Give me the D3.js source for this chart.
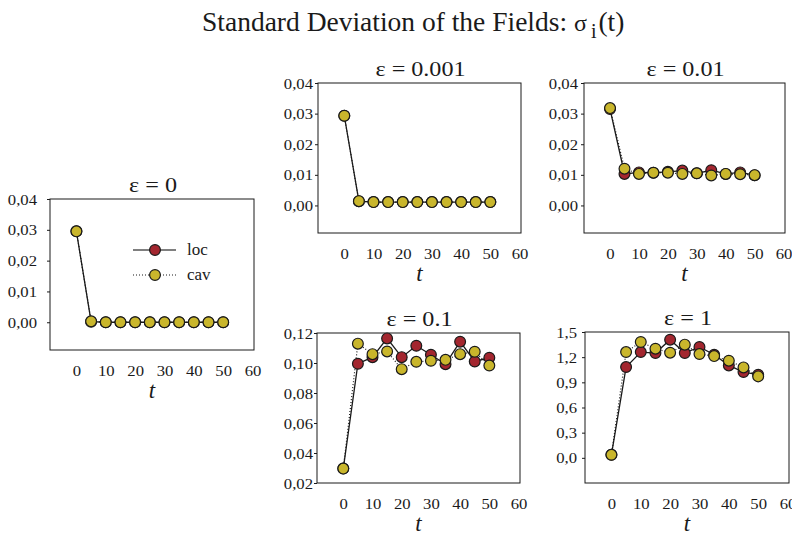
<!DOCTYPE html>
<html><head><meta charset="utf-8">
<script src="https://cdn.jsdelivr.net/npm/d3@7"></script>
<style>
html,body{margin:0;padding:0;background:#fff;}
svg{display:block;}
svg text{font-family:"Liberation Serif","Times New Roman",serif !important;}
</style></head>
<body><svg id="c" width="792" height="535"></svg>
<script>
// ---- data ----
const times = [0,5,10,15,20,25,30,35,40,45,50];
const xTicks = [0,10,20,30,40,50,60];
const epsLabels = ["ε = 0","ε = 0.001","ε = 0.01","ε = 0.1","ε = 1"];
const loc_e0   = [0.0295,0.0002,0,0,0,0,0,0,0,0,0];
const cav_e0   = [0.0295,0.0003,0,0,0,0,0,0,0,0,0];
const loc_e001 = [0.0293,0.0014,0.0011,0.0011,0.0011,0.0011,0.0011,0.0011,0.0011,0.0011,0.0011];
const cav_e001 = [0.0293,0.0014,0.0011,0.0011,0.0011,0.0011,0.0011,0.0011,0.0011,0.0011,0.0011];
const loc_e01  = [0.0315,0.0103,0.0108,0.0107,0.0110,0.0114,0.0105,0.0115,0.0103,0.0108,0.0099];
const cav_e01  = [0.0318,0.0120,0.0103,0.0107,0.0107,0.0103,0.0105,0.0098,0.0103,0.0102,0.0099];
const loc_e1   = [0.0296,0.0995,0.1039,0.1164,0.1039,0.1115,0.1055,0.0992,0.1142,0.1010,0.1035];
const cav_e1   = [0.0296,0.1129,0.1059,0.1077,0.0959,0.1008,0.1015,0.1021,0.1059,0.1075,0.0983];
const loc_e10  = [0.036,1.082,1.261,1.249,1.408,1.249,1.321,1.229,1.102,1.023,0.991];
const cav_e10  = [0.036,1.261,1.381,1.301,1.253,1.349,1.237,1.213,1.158,1.078,0.971];
const yTicksSmall = [0,0.01,0.02,0.03,0.04];
const yTicks01 = [0.02,0.04,0.06,0.08,0.10,0.12];
const yTicks1 = [0.0,0.3,0.6,0.9,1.2,1.5];
const seriesNames = ["loc","cav"];

// ---- layout ----
const svg = d3.select("#c");
const RED = "#a3262f", YEL = "#c9b62c", INK = "#1a1a1a";

const panels = [
  {title:epsLabels[0], loc:loc_e0,   cav:cav_e0,   yd:[-0.009,0.04], yt:yTicksSmall, dec:2, box:[50,254,199,350], lab:13, legend:true},
  {title:epsLabels[1], loc:loc_e001, cav:cav_e001, yd:[-0.009,0.04], yt:yTicksSmall, dec:2, box:[318,521,83,233], lab:5},
  {title:epsLabels[2], loc:loc_e01,  cav:cav_e01,  yd:[-0.009,0.04], yt:yTicksSmall, dec:2, box:[584,785,83,233], lab:6},
  {title:epsLabels[3], loc:loc_e1,   cav:cav_e1,   yd:[0.02,0.12],   yt:yTicks01,    dec:2, box:[317,520,333,483], lab:4},
  {title:epsLabels[4], loc:loc_e10,  cav:cav_e10,  yd:[-0.3,1.5],    yt:yTicks1,     dec:1, box:[585,789,332,483], lab:8}
];

function txt(g, x, y, s, opt){
  const t = g.append("text").attr("transform",`translate(${x},${y}) scale(${opt.sx||1},1)`)
    .attr("text-anchor",opt.anchor||"start").attr("font-size",opt.size).attr("fill",INK)
    .text(s);
  if(opt.italic) t.attr("font-style","italic");
  return t;
}

// title
const title = svg.append("text").attr("x",202).attr("y",31).attr("font-size",27.5).attr("fill",INK);
title.append("tspan").text("Standard Deviation of the Fields: ");
title.append("tspan").text("σ").attr("font-size",24);
title.append("tspan").text("i").attr("font-size",20).attr("dy",7).attr("dx",4);
title.append("tspan").text("(t)").attr("dy",-7).attr("dx",2);

panels.forEach(p=>{
  const [x0,x1,y0,y1] = p.box;
  const x = d3.scaleLinear().domain([-9,60.5]).range([x0,x1]);
  const y = d3.scaleLinear().domain(p.yd).range([y1,y0]);
  const g = svg.append("g");
  const fmt = v => d3.format(`.${p.dec}f`)(v).replace(".",",");

  // y axis
  const ya = g.append("g").attr("transform",`translate(${x0},0)`)
    .call(d3.axisLeft(y).tickValues(p.yt).tickSize(3).tickFormat(fmt));
  ya.select(".domain").remove();
  ya.selectAll("line").attr("stroke",INK);
  ya.selectAll(".tick text").each(function(){
    const s = d3.select(this).text();
    const tk = d3.select(this.parentNode);
    d3.select(this).remove();
    tk.append("text").attr("transform",`translate(${-p.lab},5) scale(1.15,1)`)
      .attr("text-anchor","end").attr("font-size",14.5).attr("fill",INK).text(s);
  });
  // x axis labels
  const xa = g.append("g").attr("transform",`translate(0,${y1})`)
    .call(d3.axisBottom(x).tickValues(xTicks).tickSize(0));
  xa.select(".domain").remove();
  xa.selectAll(".tick text").each(function(){
    const s = d3.select(this).text();
    const tk = d3.select(this.parentNode);
    d3.select(this).remove();
    tk.append("text").attr("transform",`translate(0,26) scale(1.15,1)`)
      .attr("text-anchor","middle").attr("font-size",14.5).attr("fill",INK).text(s);
  });
  // frame
  g.append("rect").attr("x",x0).attr("y",y0).attr("width",x1-x0).attr("height",y1-y0)
    .attr("fill","none").attr("stroke",INK).attr("stroke-width",1);

  // titles
  txt(g,(x0+x1)/2+1, y0-7, p.title, {size:21, anchor:"middle", sx:1.15});
  txt(g,(x0+x1)/2, y1+48, "t", {size:23, anchor:"middle", italic:true});

  const line = d3.line().x((d,i)=>x(times[i])).y(d=>y(d));
  g.append("path").attr("d",line(p.loc)).attr("fill","none").attr("stroke",INK).attr("stroke-width",1.3);
  g.append("path").attr("d",line(p.cav)).attr("fill","none").attr("stroke",INK).attr("stroke-width",1.2).attr("stroke-dasharray","1,2");
  g.selectAll(".l").data(p.loc).join("circle").attr("cx",(d,i)=>x(times[i])).attr("cy",d=>y(d))
    .attr("r",5.4).attr("fill",RED).attr("stroke",INK).attr("stroke-width",1.2);
  g.selectAll(".c").data(p.cav).join("circle").attr("cx",(d,i)=>x(times[i])).attr("cy",d=>y(d))
    .attr("r",5.4).attr("fill",YEL).attr("stroke",INK).attr("stroke-width",1.2);

  if(p.legend){
    const lg = g.append("g");
    [0,1].forEach(k=>{
      const ly = 250 + k*25;
      lg.append("line").attr("x1",133).attr("x2",176).attr("y1",ly).attr("y2",ly)
        .attr("stroke",k===0?"#555":INK).attr("stroke-width",k===0?1.5:1.1)
        .attr("stroke-dasharray",k===0?null:"1,2");
      lg.append("circle").attr("cx",155).attr("cy",ly).attr("r",5.4)
        .attr("fill",k===0?RED:YEL).attr("stroke",INK).attr("stroke-width",1.2);
      txt(lg,187,ly+5,seriesNames[k],{size:17});
    });
  }
});
</script></body></html>
